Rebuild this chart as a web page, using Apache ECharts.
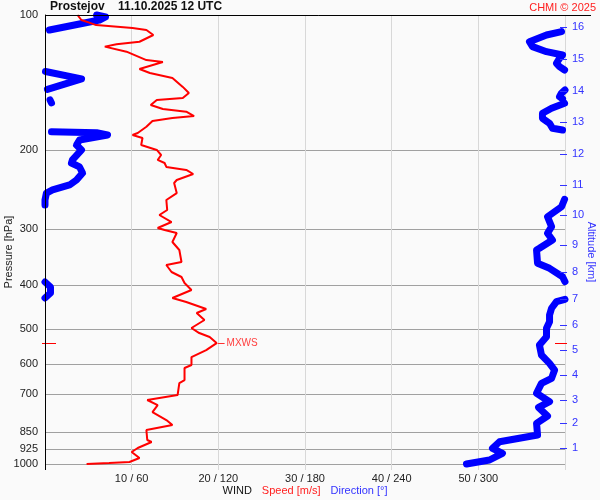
<!DOCTYPE html>
<html><head><meta charset="utf-8">
<script src="https://cdn.jsdelivr.net/npm/echarts@6/dist/echarts.min.js"></script>
<style>html,body{margin:0;padding:0;background:#fafafa}#c{width:600px;height:500px}</style>
</head><body><div id="c"></div>
<script>
// Pressure levels (hPa) labelled on the left axis
const pressureTicks = [100, 200, 300, 400, 500, 600, 700, 850, 925, 1000];
// Speed axis ticks (m/s) and matching direction (deg)
const speedTicks = [10, 20, 30, 40, 50];
// Altitude axis: km labels and the pressure at which each sits
const altKm = [1, 2, 3, 4, 5, 6, 7, 8, 9, 10, 11, 12, 13, 14, 15, 16];
const altP = [921.3, 811.6, 720.3, 633.8, 557.5, 490.2, 429.8, 374.2, 324.8, 278.9, 239.5, 204.3, 173.4, 147.9, 125.5, 106.3];

// Wind speed profile
const speedP = [100,102.6,104.0,105.3,106.9,108.0,110.8,114.7,116.2,117.6,120.7,126.0,127.3,131.9,134.6,138.1,144.6,149.2,153.1,154.6,158.6,161.9,164.2,167.9,169.6,172.2,177.4,183.2,185.0,187.9,194.8,199.8,205.0,210.3,213.6,218.0,221.4,226.0,233.1,236.7,249.2,258.2,271.8,278.9,289.1,298.1,301.2,305.9,320.3,333.7,354.9,360.4,373.6,383.3,395.3,409.8,426.9,435.7,451.6,461.0,477.9,497.9,510.9,521.4,537.8,557.5,577.8,602.0,611.3,650.2,660.2,702.0,720.3,739.3,766.3,798.3,819.1,840.4,884.3,893.3,921.3,940.4,969.7,989.7,994.9,1000];
const speedVal = [3.75,4.2,5.1,5.9,10.1,11.7,12.5,10.9,8.25,6.9,9.4,11.7,13.6,10.9,12.1,14.7,15.9,16.6,15.9,12.9,12.2,13.6,16.3,17.2,14.7,12.4,11.7,10.7,10.1,11.25,11.1,12.9,13.4,13.0,13.8,14.0,16.3,17.1,15.2,14.9,15.2,14.0,14.1,13.2,14.6,13.0,13.8,15.2,14.7,15.5,15.75,14.0,14.6,15.75,16.1,16.9,14.7,16.3,18.6,17.5,18.4,16.9,17.8,19.0,19.8,18.6,16.9,16.9,16.1,16.1,15.5,15.3,11.8,13.0,12.4,14.0,14.7,11.7,11.8,12.3,10.7,10.0,10.9,9.75,7.4,4.8];

// Wind direction profile, split where it wraps between 0 and 360 deg: [deg, hPa]
const dirA = [[35.7,100],[41.9,101.0],[37.7,102.6],[3.1,108.0]];
const dirR1 = [[357.6,108.9],[347.2,110.8],[335.4,114.7],[337.5,117.6],[347.2,120.7],[358.3,122.8],[356.2,124.9],[354.1,128.1],[356.2,130.3],[359.7,132.6]];
const dirB = [[0.35,133.6],[25.3,138.8],[1.7,146.5]];
const dirR2 = [[360,146.9],[357.6,149.2],[356.2,152.1],[358.3,153.8]];
const dirC = [[3.5,154.6],[4.5,157.0]];
const dirR3 = [[359.7,157.3],[350.7,161.3],[344.4,165.5],[344.4,169.9],[349.3,174.3],[351.3,178.8],[358.3,180.4]];
const dirD = [[4.5,182.0],[35.7,182.9],[43.3,185.0],[23.9,189.8],[21.8,194.8],[25.3,199.8],[19.0,210.3],[18.3,213.6],[23.9,218.0],[26.0,224.8],[21.8,233.1],[17.0,239.1],[5.2,245.3],[1.0,249.2],[0,258.2],[0,264.9]];
const dirR4 = [[359.7,257.3],[357.6,267.3],[347.9,281.4],[350.7,296.1],[347.9,306.3],[351.3,317.0],[342.3,330.8],[340.3,333.7],[341.0,357.3],[349.3,366.6],[358.3,382.7],[360,392.6]];
const dirE = [[0,393.3],[3.8,403.5],[3.8,416.1],[0,426.9]];
const dirR5 = [[360,429.8],[354.1,435.1],[350.7,449.9],[349.3,465.7],[349.3,482.1],[347.2,498.7],[347.2,520.6],[342.3,543.3],[343.7,571.9],[349.3,596.8],[352.8,617.6],[350.7,644.6],[343.7,661.2],[340.3,695.9],[349.3,726.5],[341.7,748.2],[347.9,781.9],[340.3,811.6],[341.0,862.0],[314.7,892.0],[309.8,922.6],[316.7,946.6],[307.7,979.7],[291.8,1000]];
const dirSegments = [dirA, dirR1, dirB, dirR2, dirC, dirR3, dirD, dirR4, dirE, dirR5];

// Maximum wind (MXWS)
const mxwsSpeed = 19.8, mxwsP = 537.8;

const FONT = '"Liberation Sans", Arial, sans-serif';
const RED = '#ff0000', BLUE = '#0000ff', LBLUE = '#3333ff';

const chart = echarts.init(document.getElementById('c'), null, {renderer: 'canvas'});
const speedData = speedP.map((p, i) => [speedVal[i], p]);

const series = [];
dirSegments.forEach(seg => series.push({
  type: 'line', xAxisIndex: 1, yAxisIndex: 0, data: seg, symbol: 'none', clip: false,
  lineStyle: {color: BLUE, width: 7, cap: 'round', join: 'round'}, silent: true
}));
series.push({
  type: 'line', xAxisIndex: 0, yAxisIndex: 0, data: speedData, symbol: 'none',
  lineStyle: {color: RED, width: 2}, silent: true, z: 3
});
// Altitude tick marks on the right edge (at 60 m/s / 360 deg)
series.push({
  type: 'custom', xAxisIndex: 0, yAxisIndex: 0, clip: false, z: 4, silent: true,
  data: altP.map(p => [60, p]),
  renderItem: function (params, api) {
    const c = api.coord([api.value(0), api.value(1)]);
    const y = Math.round(c[1]) + 0.5;
    return {type: 'line', shape: {x1: c[0] - 5, y1: y, x2: c[0] + 2, y2: y}, style: {stroke: LBLUE, lineWidth: 1}};
  }
});
series.push({
  type: 'custom', xAxisIndex: 0, yAxisIndex: 0, clip: false, z: 4, silent: true,
  data: [[mxwsSpeed, mxwsP]],
  renderItem: function (params, api) {
    const pt = api.coord([api.value(0), api.value(1)]);
    const l = api.coord([0, api.value(1)]);
    const r = api.coord([60, api.value(1)]);
    const y = Math.round(pt[1]) + 0.5;
    return {type: 'group', children: [
      {type: 'line', shape: {x1: pt[0] + 1, y1: y, x2: pt[0] + 8, y2: y}, style: {stroke: '#ff3030', lineWidth: 1}},
      {type: 'text', style: {text: 'MXWS', x: pt[0] + 10, y: y, verticalAlign: 'middle', fill: '#ff4040', fontSize: 10, fontFamily: FONT}},
      {type: 'line', shape: {x1: l[0] - 3, y1: y, x2: l[0] + 11, y2: y}, style: {stroke: '#ff0000', lineWidth: 1}},
      {type: 'line', shape: {x1: r[0] - 10, y1: y, x2: r[0] + 2, y2: y}, style: {stroke: '#ff0000', lineWidth: 1}}
    ]};
  }
});

const option = {
  animation: false,
  backgroundColor: '#fafafa',
  textStyle: {fontFamily: FONT},
  title: [
    {text: 'Prostejov    11.10.2025 12 UTC', left: 50, top: 1, padding: 0,
     textStyle: {fontSize: 12, fontWeight: 'bold', color: '#111', fontFamily: FONT}},
    {text: 'CHMI © 2025', right: 4, top: 2, padding: 0,
     textStyle: {fontSize: 11, fontWeight: 'normal', color: '#ff2020', fontFamily: FONT}}
  ],
  grid: {left: 45, right: 35, top: 15, bottom: 36, containLabel: false, outerBoundsMode: 'none'},
  xAxis: [
    {type: 'value', min: 0, max: 60, interval: 10, position: 'bottom',
     axisLine: {show: false},
     axisTick: {show: true, length: 6, lineStyle: {color: '#d8d8d8'}},
     axisLabel: {fontSize: 11, color: '#222', margin: 9, fontFamily: FONT,
       formatter: v => speedTicks.indexOf(v) >= 0 ? v + ' / ' + (v * 6) : ''},
     splitLine: {show: true, lineStyle: {color: '#d8d8d8', width: 1}},
     name: '{w|WIND}   {s|Speed [m/s]}   {d|Direction [°]}',
     nameLocation: 'middle', nameGap: 21, nameMoveOverlap: false,
     nameTextStyle: {rich: {
       w: {color: '#111', fontSize: 11, fontFamily: FONT},
       s: {color: '#ff2020', fontSize: 11, fontFamily: FONT},
       d: {color: LBLUE, fontSize: 11, fontFamily: FONT}}}
    },
    {type: 'value', min: 0, max: 360, show: false}
  ],
  yAxis: [
    {type: 'log', logBase: 10, min: 100, max: 1000, inverse: true, position: 'left',
     axisLine: {show: true, onZero: false, lineStyle: {color: '#000', width: 1}},
     axisTick: {show: false, customValues: pressureTicks},
     axisLabel: {customValues: pressureTicks, fontSize: 11, color: '#222', margin: 7, fontFamily: FONT,
       formatter: v => String(Math.round(v))},
     splitLine: {show: true, lineStyle: {color: '#a0a0a0', width: 1}},
     minorSplitLine: {show: false},
     name: 'Pressure [hPa]', nameLocation: 'middle', nameGap: 31, nameMoveOverlap: false,
     nameTextStyle: {fontSize: 11, color: '#222', fontFamily: FONT, padding: [0, 25, 0, 0]}
    },
    {type: 'log', logBase: 10, min: 100, max: 1000, inverse: true, position: 'right', offset: -4,
     axisLine: {show: false},
     axisTick: {show: false},
     axisLabel: {customValues: altP, fontSize: 11, color: LBLUE, margin: 11, fontFamily: FONT,
       formatter: v => {
         let best = 0, bd = Infinity;
         altP.forEach((p, i) => { const d = Math.abs(p - v); if (d < bd) { bd = d; best = i; } });
         return String(altKm[best]);
       }},
     splitLine: {show: false},
     name: 'Altitude [km]', nameLocation: 'middle', nameGap: 25, nameRotate: -90, nameMoveOverlap: false,
     nameTextStyle: {fontSize: 11, color: LBLUE, fontFamily: FONT, padding: [0, 0, 0, 25]}
    }
  ],
  graphic: [
    {type: 'polyline', z: 100, silent: true,
     shape: {points: [[591, 15.5], [45.5, 15.5], [45.5, 470]]},
     style: {stroke: '#000', lineWidth: 1, fill: null}}
  ],
  series: series
};
chart.setOption(option);
</script></body></html>
